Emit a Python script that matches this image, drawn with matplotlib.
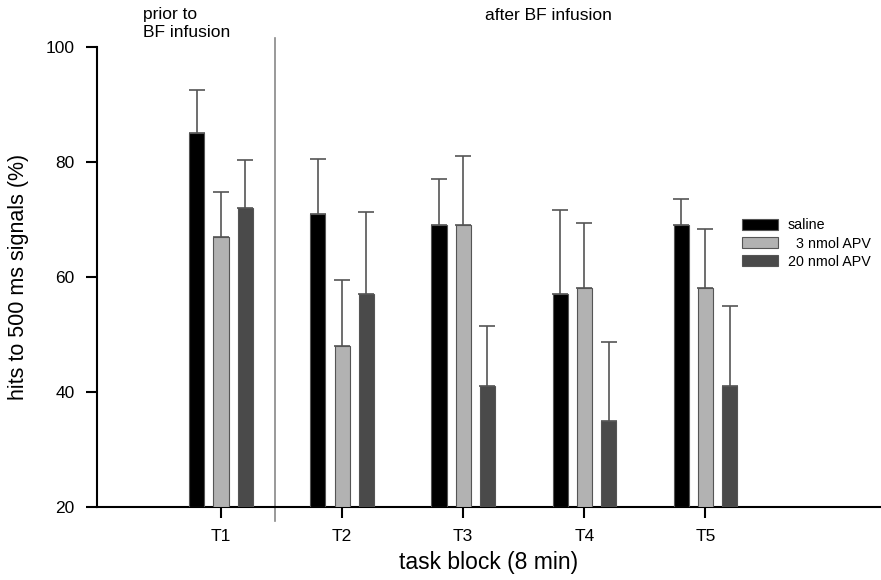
import matplotlib
matplotlib.use("Agg")
import matplotlib.pyplot as plt
import numpy as np

plt.rcParams['font.family'] = ['Liberation Sans', 'DejaVu Sans']

blocks = ['T1', 'T2', 'T3', 'T4', 'T5']
saline = [85, 71, 69, 57, 69]
saline_top = [92.5, 80.5, 77, 71.7, 73.5]
apv3 = [67, 48, 69, 58, 58]
apv3_top = [74.8, 59.5, 81.1, 69.3, 68.3]
apv20 = [72, 57, 41, 35, 41]
apv20_top = [80.3, 71.3, 51.4, 48.6, 55]

groups = [
    ('saline', saline, saline_top, '#000000'),
    ('  3 nmol APV', apv3, apv3_top, '#b2b2b2'),
    ('20 nmol APV', apv20, apv20_top, '#4a4a4a'),
]

fig = plt.figure(figsize=(8.81, 5.80), dpi=100)
ax = fig.add_axes([0.110, 0.126, 0.89, 0.793])

x = np.arange(len(blocks))
width = 0.125
offsets = [-0.2, 0.0, 0.2]
for (name, vals, tops, col), off in zip(groups, offsets):
    vals = np.array(vals, dtype=float)
    err = np.array(tops) - vals
    ax.bar(x + off, vals - 20, width, bottom=20, color=col,
           edgecolor='#555555', linewidth=0.8, label=name, zorder=3)
    ax.errorbar(x + off, vals, yerr=[np.zeros_like(err), err], fmt='none',
                ecolor='#555555', elinewidth=1.2, capsize=5.5, capthick=1.2,
                zorder=2)

ax.set_xlim(-1.025, 5.45)
ax.set_ylim(20, 100)
ax.set_yticks([20, 40, 60, 80, 100])
ax.set_xticks(x)
ax.set_xticklabels(blocks)
ax.tick_params(axis='both', direction='out', length=8, width=1.5, labelsize=12.5)
ax.tick_params(axis='y', pad=8)
ax.tick_params(axis='x', pad=8)
for s in ['top', 'right']:
    ax.spines[s].set_visible(False)
ax.spines['left'].set_linewidth(1.5)
ax.spines['bottom'].set_linewidth(1.5)

# separator between baseline block and post-infusion blocks
ax.plot([0.445, 0.445], [-0.03, 1.02], transform=ax.get_xaxis_transform(),
        color='#888888', linewidth=1.2, clip_on=False)

ax.set_ylabel('hits to 500 ms signals (%)', fontsize=15.5, labelpad=12)
ax.set_xlabel('task block (8 min)', fontsize=16.5, labelpad=5)

fig.text(0.162, 1 - 19 / 580, 'prior to', fontsize=12.5, ha='left', va='baseline')
fig.text(0.162, 1 - 37 / 580, 'BF infusion', fontsize=12.5, ha='left', va='baseline')
fig.text(485 / 881, 1 - 20 / 580, 'after BF infusion', fontsize=12.5,
         ha='left', va='baseline')

ax.legend(loc='upper left', bbox_to_anchor=(0.8155, 0.64), frameon=False,
          fontsize=10.3, handlelength=2.5, handleheight=0.8, labelspacing=0.3,
          handletextpad=0.7, borderaxespad=0)

fig.savefig('out.png', dpi=100)
